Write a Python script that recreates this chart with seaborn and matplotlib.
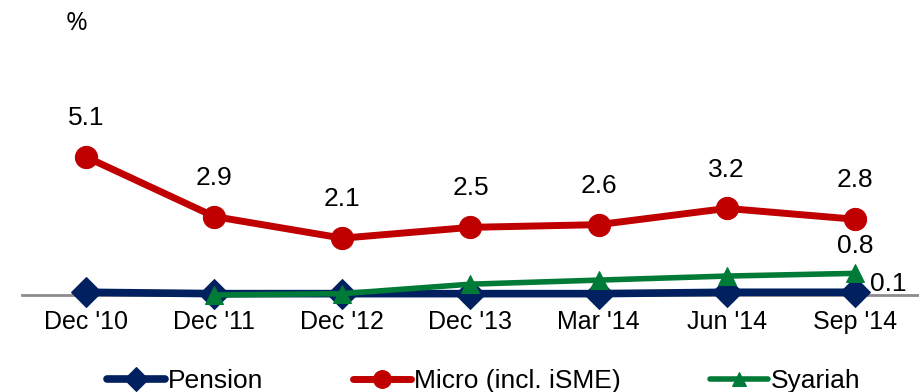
import matplotlib
matplotlib.use("Agg")
import matplotlib.pyplot as plt
import numpy as np
import seaborn as sns

# data
periods = ["Dec '10", "Dec '11", "Dec '12", "Dec '13", "Mar '14", "Jun '14", "Sep '14"]
pension = [0.1, 0.05, 0.05, 0.05, 0.05, 0.1, 0.1]
micro = [5.1, 2.9, 2.1, 2.5, 2.6, 3.2, 2.8]
syariah = [0.0, 0.05, 0.4, 0.55, 0.7, 0.8]   # starts at Dec '11

sns.set_style("white")
plt.rcParams["font.family"] = ["Liberation Sans", "DejaVu Sans"]
plt.rcParams["text.color"] = "black"
plt.rcParams["xtick.color"] = "black"

navy = "#002060"
red = "#C00000"
green = "#007A37"

fig = plt.figure(figsize=(9.2, 3.92), dpi=100)
ax = fig.add_axes([22 / 920, 1 - 295 / 392, 897 / 920, 9 * 27.06 / 392])

x = np.arange(len(periods))
sns.lineplot(x=x, y=pension, ax=ax, color=navy, linewidth=5.5, marker="D",
             markersize=15, markeredgecolor=navy, label="Pension", clip_on=False, zorder=3)
sns.lineplot(x=x, y=micro, ax=ax, color=red, linewidth=5, marker="o",
             markersize=16, markeredgecolor=red, label="Micro (incl. iSME)", clip_on=False, zorder=4)
sns.lineplot(x=x[1:], y=syariah, ax=ax, color=green, linewidth=4, marker="^",
             markersize=13, markeredgecolor=green, label="Syariah", clip_on=False, zorder=5)

for xi, v in zip(x, micro):
    ax.annotate(f"{v:.1f}", (xi, v), xytext=(0, 28), textcoords="offset points",
                ha="center", va="center", fontsize=19)
ax.annotate(f"{syariah[-1]:.1f}", (x[-1], syariah[-1]), xytext=(0, 20),
            textcoords="offset points", ha="center", va="center", fontsize=19)
ax.annotate(f"{pension[-1]:.1f}", (x[-1], pension[-1]), xytext=(24, 6),
            textcoords="offset points", ha="center", va="center", fontsize=19)

ax.set_xlim(-0.5, len(periods) - 0.5)
ax.set_ylim(0, 9)
ax.set_xticks(x)
ax.set_xticklabels(periods, fontsize=18)
ax.set_yticks([])
ax.tick_params(axis="x", length=0, pad=11)
for s in ["top", "right", "left"]:
    ax.spines[s].set_visible(False)
ax.spines["bottom"].set_color("#8c8c8c")
ax.spines["bottom"].set_linewidth(2)
ax.spines["bottom"].set_zorder(1)
ax.set_xlabel("")

fig.text(77 / 920, 1 - 23 / 392, "%", fontsize=19, ha="center", va="center",
         family=["Open Sans", "DejaVu Sans"])

ax.get_legend().remove()
handles, labels = ax.get_legend_handles_labels()
fig.legend(handles, labels, loc="center", bbox_to_anchor=(484 / 920, 1 - 381 / 392),
           ncol=3, frameon=False, fontsize=19, handlelength=2.2, handletextpad=0.1,
           columnspacing=3.4, markerscale=0.8, borderpad=0)

fig.savefig("out.png", dpi=100)
